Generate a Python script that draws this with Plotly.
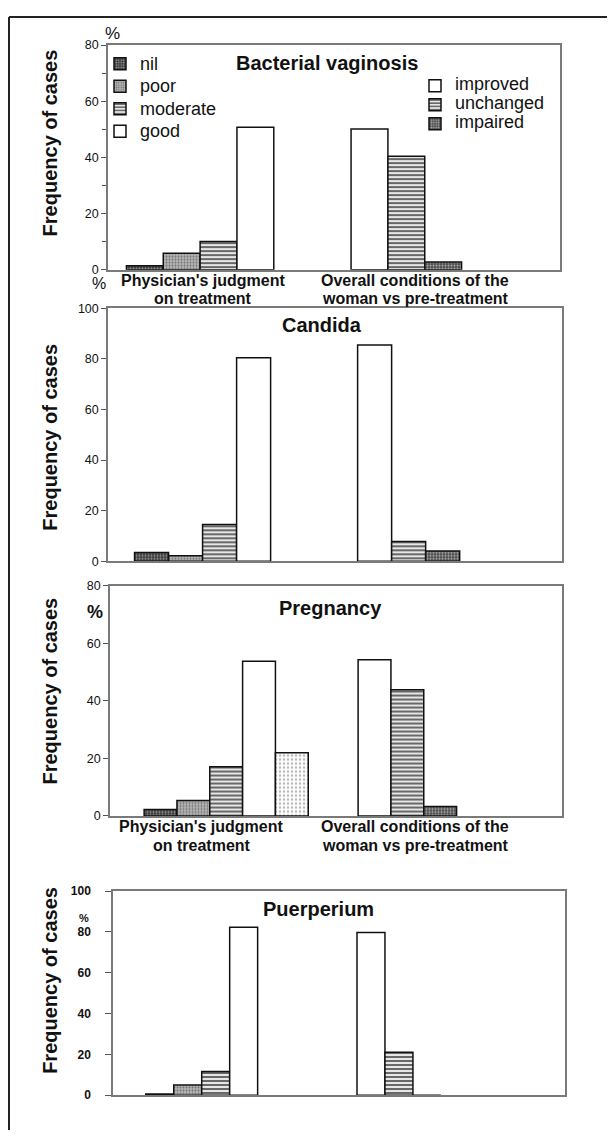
import plotly.graph_objects as go

# ---------------- data ----------------
groups = ["Physician's judgment on treatment",
          "Overall conditions of the woman vs pre-treatment"]
group_label_lines = [["Physician's judgment", "on treatment"],
                     ["Overall conditions of the", "woman vs pre-treatment"]]
judgment_grades = ["nil", "poor", "moderate", "good"]
overall_grades = ["improved", "unchanged", "impaired"]
panel_titles = ["Bacterial vaginosis", "Candida", "Pregnancy", "Puerperium"]

bv_judgment = [1.4, 5.9, 10.1, 50.8]
bv_overall = [50.1, 40.4, 2.8]
candida_judgment = [3.4, 2.1, 14.5, 80.4]
candida_overall = [85.5, 7.8, 4.0]
pregnancy_judgment = [2.2, 5.4, 17.1, 53.7]
pregnancy_extra = [21.9]
pregnancy_overall = [54.2, 43.8, 3.3]
puerperium_judgment = [0.5, 5.0, 11.6, 82.3]
puerperium_overall = [79.7, 21.0, 0.0]

y_max = [80, 100, 80, 100]
y_tickvals = [[0, 20, 40, 60, 80], [0, 20, 40, 60, 80, 100],
              [0, 20, 40, 60, 80], [0, 20, 40, 60, 80, 100]]

# ---------------- styles / layout ----------------
PAGE_OFF = 8               # browser body margin
W, H = 615 - PAGE_OFF, 1137 - PAGE_OFF
FONT = "Arial, Liberation Sans, Helvetica, sans-serif"

styles = {
    "nil":       dict(bg="#3a3a3a", fg="#9a9a9a", shape=".", size=3, sol=0.35),
    "poor":      dict(bg="#b4b4b4", fg="#707070", shape=".", size=3, sol=0.3),
    "moderate":  dict(bg="#e6e6e6", fg="#5a5a5a", shape="-", size=4, sol=0.45),
    "good":      dict(bg="#ffffff", fg="#ffffff", shape="", size=4, sol=0.3),
    "improved":  dict(bg="#ffffff", fg="#ffffff", shape="", size=4, sol=0.3),
    "unchanged": dict(bg="#e6e6e6", fg="#5a5a5a", shape="-", size=4, sol=0.45),
    "impaired":  dict(bg="#4a4a4a", fg="#b0b0b0", shape=".", size=3, sol=0.4),
    "extra":     dict(bg="#ffffff", fg="#b8b8b8", shape=".", size=4, sol=0.3),
}

def px_x(p):
    return (p - PAGE_OFF) / W

def px_y(p):
    return 1 - (p - PAGE_OFF) / H

# panel geometry (reference pixels): left, right, top, bottom
geom = [(108, 560, 38.5, 266), (108, 561.5, 305, 561),
        (110, 561.5, 585.7, 819), (113, 565, 895, 1101.7)]
x_ranges = [[-0.41, 1.602], [-0.424, 1.609], [-0.543, 1.567], [-0.42, 1.72]]
slot_width = [0.164, 0.1525, 0.1534, 0.1324]   # bar width in category units
n_slots = [4, 4, 5, 4]

panel_data = [
    (bv_judgment, bv_overall, None),
    (candida_judgment, candida_overall, None),
    (pregnancy_judgment, pregnancy_overall, pregnancy_extra),
    (puerperium_judgment, puerperium_overall, None),
]

LEG_TXT = {"legend": 18, "legend2": 18}

fig = go.Figure()

def bar(name, xcat, val, slot, i, legend="legend", show=False):
    s = styles[name]
    w = slot_width[i]
    label = name
    if show:
        label = f'<span style="font-size:{LEG_TXT[legend]}px">{name}</span>'
    return go.Bar(
        name=label, x=[xcat], y=[val],
        width=w, offset=(slot - n_slots[i] / 2) * w,
        xaxis="x" if i == 0 else f"x{i+1}",
        yaxis="y" if i == 0 else f"y{i+1}",
        marker=dict(color=s["bg"], line=dict(color="#111111", width=1.5),
                    pattern=dict(shape=s["shape"], fgcolor=s["fg"], bgcolor=s["bg"],
                                 size=s["size"], solidity=s["sol"], fillmode="replace")),
        showlegend=show, legend=legend, hoverinfo="skip",
    )

for i, (jv, ov, ex) in enumerate(panel_data):
    for k, g in enumerate(judgment_grades):
        fig.add_trace(bar(g, groups[0], jv[k], k, i, legend="legend", show=(i == 0)))
    if ex is not None:
        fig.add_trace(bar("extra", groups[0], ex[0], 4, i))
    for k, g in enumerate(overall_grades):
        fig.add_trace(bar(g, groups[1], ov[k], k, i, legend="legend2", show=(i == 0)))

layout = dict(
    width=W, height=H, margin=dict(l=0, r=0, t=0, b=0),
    paper_bgcolor="white", plot_bgcolor="white",
    barmode="overlay",
    font=dict(family=FONT, color="#111111"),
    legend=dict(x=px_x(100), y=px_y(41), xanchor="left", yanchor="top",
                bgcolor="rgba(0,0,0,0)", font=dict(size=15, family=FONT, color="#111"),
                traceorder="normal", itemclick=False),
    legend2=dict(x=px_x(415), y=px_y(65), xanchor="left", yanchor="top",
                 bgcolor="rgba(0,0,0,0)", font=dict(size=12, family=FONT, color="#111"),
                 traceorder="normal", itemclick=False),
)

for i in range(4):
    l, r, t, b = geom[i]
    xs = "xaxis" if i == 0 else f"xaxis{i+1}"
    ys = "yaxis" if i == 0 else f"yaxis{i+1}"
    yref = "y" if i == 0 else f"y{i+1}"
    xref = "x" if i == 0 else f"x{i+1}"
    layout[xs] = dict(domain=[px_x(l), px_x(r)], anchor=yref, type="category",
                      categoryorder="array", categoryarray=groups,
                      range=x_ranges[i], showticklabels=False, ticks="",
                      showline=True, mirror=True, linecolor="#7a7a7a", linewidth=1.5,
                      showgrid=False, zeroline=False, fixedrange=True)
    yax = dict(domain=[px_y(b), px_y(t)], anchor=xref, range=[0, y_max[i]],
               tickmode="array", tickvals=y_tickvals[i],
               ticks="outside", ticklen=5, tickcolor="#555", tickwidth=1,
               showline=True, mirror=True, linecolor="#7a7a7a", linewidth=1.5,
               showgrid=False, zeroline=False, fixedrange=True,
               tickfont=dict(size=12.5, family=FONT, color="#111"))
    if i == 0:
        yax["minor"] = dict(tickvals=[10, 30, 50, 70], ticks="outside", ticklen=4,
                            tickcolor="#555")
    if i == 3:
        yax["tickfont"] = dict(size=12, family=FONT, color="#111", weight="bold")
        yax["ticklen"] = 6
        yax["ticklabelstandoff"] = 12
    layout[ys] = yax

fig.update_layout(**layout)

ann = []
title_pos = [(327, 57), (322, 322), (330, 608), (318, 913)]
for i, t in enumerate(panel_titles):
    ann.append(dict(text=f"<b>{t}</b>", x=px_x(title_pos[i][0]), y=px_y(title_pos[i][1]),
                    xref="paper", yref="paper", showarrow=False, xanchor="center",
                    yanchor="middle", font=dict(size=20, family=FONT, color="#111")))

ytitle_y = [138, 436, 693, 986]
for yy in ytitle_y:
    ann.append(dict(text="<b>Frequency of cases</b>", x=px_x(50), y=px_y(yy),
                    xref="paper", yref="paper", showarrow=False, textangle=-90,
                    xanchor="center", yanchor="middle",
                    font=dict(size=20, family=FONT, color="#111")))

label_pos = {0: [(203, 276.7, 295), (415, 276.7, 295)],
             2: [(202, 830, 849.3), (415, 830, 849.3)]}
for i, poss in label_pos.items():
    for g, (cx, y1, y2) in enumerate(poss):
        for line, yy in zip(group_label_lines[g], (y1, y2)):
            ann.append(dict(text=f"<b>{line}</b>", x=px_x(cx), y=px_y(yy),
                            xref="paper", yref="paper", showarrow=False,
                            xanchor="center", yanchor="middle",
                            font=dict(size=16, family=FONT, color="#111")))

pct = [(112, 27, 17, False), (99, 280, 16, False), (95, 612, 18, True), (84, 922, 11, True)]
for cx, cy, fs, bold in pct:
    ann.append(dict(text="<b>%</b>" if bold else "%", x=px_x(cx), y=px_y(cy),
                    xref="paper", yref="paper", showarrow=False,
                    xanchor="center", yanchor="middle",
                    font=dict(size=fs, family=FONT, color="#111")))

fig.update_layout(annotations=ann)

fig.update_layout(shapes=[
    dict(type="line", xref="paper", yref="paper", x0=px_x(9), x1=1, y0=px_y(10), y1=px_y(10),
         line=dict(color="#222", width=2)),
    dict(type="line", xref="paper", yref="paper", x0=px_x(9), x1=px_x(9), y0=px_y(10), y1=0,
         line=dict(color="#222", width=2)),
])

fig.write_html("out.html")
